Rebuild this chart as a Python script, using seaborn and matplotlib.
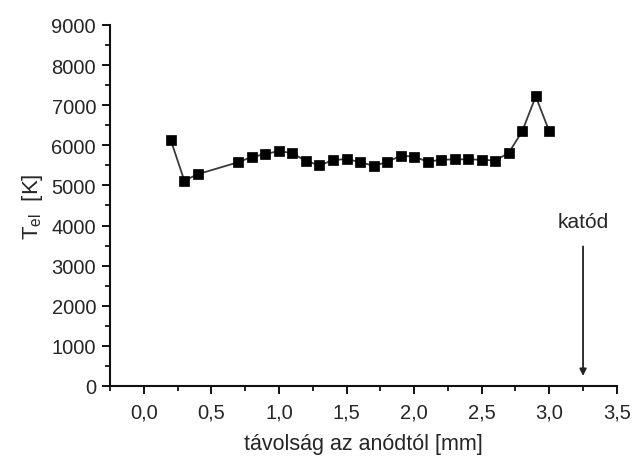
import matplotlib
matplotlib.use('Agg')
import matplotlib.pyplot as plt
import seaborn as sns
import pandas as pd
from matplotlib.ticker import MultipleLocator, FuncFormatter

# distance from anode [mm] and electron temperature [K]
tavolsag = [0.2, 0.3, 0.4, 0.7, 0.8, 0.9, 1.0, 1.1, 1.2, 1.3, 1.4, 1.5, 1.6, 1.7,
            1.8, 1.9, 2.0, 2.1, 2.2, 2.3, 2.4, 2.5, 2.6, 2.7, 2.8, 2.9, 3.0]
t_el = [6130, 5120, 5280, 5580, 5710, 5780, 5860, 5800, 5610, 5500, 5630, 5660, 5580, 5490,
        5580, 5740, 5720, 5590, 5640, 5650, 5650, 5640, 5620, 5810, 6350, 7220, 6350]

katod_x = 3.25
x_ticks = [0.0, 0.5, 1.0, 1.5, 2.0, 2.5, 3.0, 3.5]

df = pd.DataFrame({'x': tavolsag, 'T': t_el})

sns.set_style('ticks')
plt.rcParams['font.family'] = ['Liberation Sans', 'DejaVu Sans']
plt.rcParams['mathtext.fontset'] = 'custom'
plt.rcParams['mathtext.rm'] = 'Liberation Sans'
plt.rcParams['mathtext.it'] = 'Liberation Sans'

txt = '#262626'
fig = plt.figure(figsize=(6.32, 4.64), dpi=100)
ax = fig.add_axes([0.174, 0.166, 0.802, 0.778])

sns.lineplot(data=df, x='x', y='T', ax=ax, color='#3a3a3a', linewidth=1.3,
             marker='s', markersize=7.5, markerfacecolor='black',
             markeredgecolor='black', markeredgewidth=0.5)

ax.set_xlim(-0.25, 3.5)
ax.set_ylim(0, 9000)
ax.set_xticks(x_ticks)
ax.xaxis.set_minor_locator(MultipleLocator(0.25))
ax.yaxis.set_major_locator(MultipleLocator(1000))
ax.yaxis.set_minor_locator(MultipleLocator(500))
ax.xaxis.set_major_formatter(FuncFormatter(lambda v, p: f'{v:.1f}'.replace('.', ',')))

sns.despine(ax=ax)
for s in ['left', 'bottom']:
    ax.spines[s].set_linewidth(1.5)
    ax.spines[s].set_color('#111111')
ax.tick_params(which='major', direction='out', length=6, width=1.4, labelsize=14.5,
               colors='#111111', labelcolor=txt, pad=4)
ax.tick_params(axis='x', which='major', pad=6)
ax.tick_params(which='minor', direction='out', length=3.5, width=1.3, colors='#111111')

ax.set_xlabel('távolság az anódtól [mm]', fontsize=15.5, color=txt, labelpad=8)
ax.set_ylabel(r'T$_{\mathrm{el}}$  [K]', fontsize=16, color=txt, labelpad=5)

ax.annotate('', xy=(katod_x, 250), xytext=(katod_x, 3480),
            arrowprops=dict(arrowstyle='-|>', color='#222222', lw=1.3,
                            mutation_scale=10, shrinkA=0, shrinkB=0))
ax.text(katod_x, 4100, 'katód', ha='center', va='center', fontsize=15, color=txt)

plt.savefig('out.png', dpi=100)
plt.close()
